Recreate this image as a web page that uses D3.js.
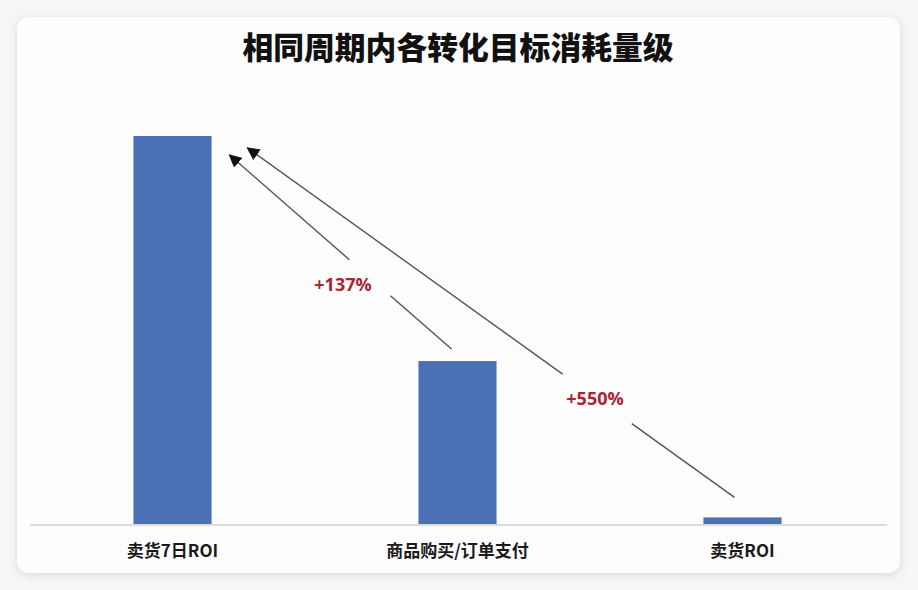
<!DOCTYPE html>
<html>
<head>
<meta charset="utf-8">
<script src="https://cdn.jsdelivr.net/npm/d3@7"></script>
<style>
  html, body { margin: 0; padding: 0; background: #f6f6f6; }
  svg { display: block; }
</style>
</head>
<body>
<svg id="chart"></svg>
<script>
width = 918;
height = 590;

// data (relative spend level)
var categories = ['卖货7日ROI', '商品购买/订单支付', '卖货ROI'];
var values = [100, 42, 1.7];
var title = '相同周期内各转化目标消耗量级';
// growth arrows: from category -> to category, label
var arrowFrom = ['商品购买/订单支付', '卖货ROI'];
var arrowTo = ['卖货7日ROI', '卖货7日ROI'];
var arrowLabels = ['+137%', '+550%'];

const font = '"Noto Sans CJK SC", "Noto Sans", sans-serif';
const barColor = '#4c70b6';
const labelColor = '#a82535';

const svg = d3.select('#chart')
	.attr('width', width)
	.attr('height', height);

const defs = svg.append('defs');
const shadow = defs.append('filter')
	.attr('id', 'shadow')
	.attr('x', '-5%').attr('y', '-5%')
	.attr('width', '110%').attr('height', '110%');
shadow.append('feDropShadow')
	.attr('dx', 0).attr('dy', 2)
	.attr('stdDeviation', 4)
	.attr('flood-color', '#000')
	.attr('flood-opacity', 0.12);

defs.append('marker')
	.attr('id', 'head')
	.attr('viewBox', '0 0 10 10')
	.attr('refX', 9).attr('refY', 5)
	.attr('markerWidth', 13).attr('markerHeight', 13)
	.attr('markerUnits', 'userSpaceOnUse')
	.attr('orient', 'auto')
	.append('path')
		.attr('d', 'M0,0 L10,5 L0,10 Z')
		.attr('fill', '#111');

// card
svg.append('rect')
	.attr('x', 17).attr('y', 17)
	.attr('width', 883).attr('height', 556)
	.attr('rx', 12)
	.attr('fill', '#fdfdfd')
	.attr('filter', 'url(#shadow)');

svg.append('text')
	.attr('x', 458).attr('y', 59)
	.attr('text-anchor', 'middle')
	.attr('font-family', font)
	.attr('font-weight', 900)
	.attr('font-size', 30.8)
	.attr('fill', '#111')
	.text(title);

const x = d3.scaleBand()
	.domain(categories)
	.range([30, 885])
	.paddingInner(0.726)
	.paddingOuter(0.363);

const y = d3.scaleLinear()
	.domain([0, 100])
	.range([524, 136]);

svg.selectAll('.bar')
	.data(values)
	.enter().append('rect')
		.attr('class', 'bar')
		.attr('x', (d, i) => x(categories[i]))
		.attr('y', d => y(d))
		.attr('width', x.bandwidth())
		.attr('height', d => y(0) - y(d))
		.attr('fill', barColor);

// baseline
svg.append('line')
	.attr('x1', 30).attr('x2', 887)
	.attr('y1', y(0) + 1).attr('y2', y(0) + 1)
	.attr('stroke', '#dcdcdc')
	.attr('stroke-width', 2);

const xAxis = svg.append('g')
	.attr('transform', `translate(0, ${y(0)})`)
	.call(d3.axisBottom(x).tickSize(0).tickPadding(21));
xAxis.select('.domain').remove();
xAxis.selectAll('text')
	.attr('font-family', font)
	.attr('font-weight', 700)
	.attr('font-size', 17)
	.attr('fill', '#1a1a1a');

// arrows, with a gap in the line where the label sits
const arrowStyle = [
	{ s: [-6, -12], e: [18, 19], gap: [0.275, 0.46], lab: [343, 290.5] },
	{ s: [-8, -20], e: [36, 12], gap: [0.211, 0.353], lab: [595, 404.5] }
];

arrowLabels.forEach(function(lbl, i){
	const st = arrowStyle[i];
	const fi = categories.indexOf(arrowFrom[i]);
	const ti = categories.indexOf(arrowTo[i]);
	const x0 = x(arrowFrom[i]) + x.bandwidth() / 2 + st.s[0];
	const y0 = y(values[fi]) + st.s[1];
	const x1 = x(arrowTo[i]) + x.bandwidth() + st.e[0];
	const y1 = y(values[ti]) + st.e[1];
	const p = t => [x0 + (x1 - x0) * t, y0 + (y1 - y0) * t];
	const a = p(st.gap[0]), b = p(st.gap[1]);
	svg.append('line')
		.attr('x1', x0).attr('y1', y0)
		.attr('x2', a[0]).attr('y2', a[1])
		.attr('stroke', '#555').attr('stroke-width', 1.4);
	svg.append('line')
		.attr('x1', b[0]).attr('y1', b[1])
		.attr('x2', x1).attr('y2', y1)
		.attr('stroke', '#555').attr('stroke-width', 1.4)
		.attr('marker-end', 'url(#head)');
	svg.append('text')
		.attr('x', st.lab[0]).attr('y', st.lab[1])
		.attr('text-anchor', 'middle')
		.attr('font-family', '"Open Sans", "Noto Sans", sans-serif')
		.attr('font-weight', 700)
		.attr('font-size', 18)
		.attr('fill', labelColor)
		.text(lbl);
});
</script>
</body>
</html>
